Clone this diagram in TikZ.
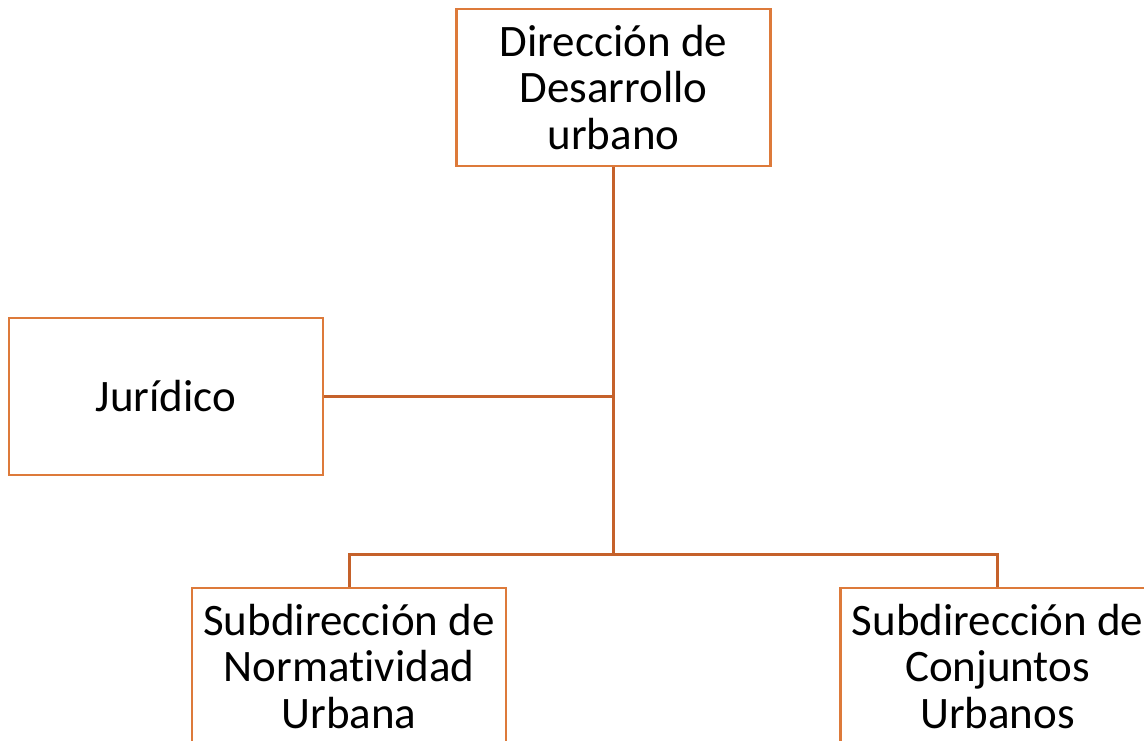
\documentclass[tikz,border=0pt]{standalone}
\usepackage{fontspec}
\setmainfont{Carlito}[Ligatures={NoCommon}]
\definecolor{boxc}{HTML}{DD7A3A}
\definecolor{linec}{HTML}{C5612A}
\begin{document}
\begin{tikzpicture}[x=1pt,y=-1pt,
  orgbox/.style={draw=boxc,line width=2.5pt,fill=white,minimum width=314pt,minimum height=157pt,
    inner sep=0pt,align=center,font=\fontsize{45}{46.5}\selectfont},
  conn/.style={draw=linec,line width=3pt}]
\useasboundingbox (0,0) rectangle (1144,740);
\clip (0,0) rectangle (1144,740);
\fill[white] (0,0) rectangle (1144,740);
\node[orgbox] (dir) at (613.5,87.5) {Dirección de\\Desarrollo\\urbano};
\node[orgbox] (jur) at (166,396.5) {Jurídico};
\node[orgbox] (sn) at (349,666.5) {Subdirección de\\Normatividad\\Urbana};
\node[orgbox] (sc) at (997.5,666.5) {Subdirección de\\Conjuntos\\Urbanos};
\coordinate (hub) at (dir.south |- 0,554);
\coordinate (mid) at (dir.south |- jur.east);
\draw[conn] (dir.south) -- (hub);
\draw[conn] (jur.east) -- (mid);
\draw[conn] (sn.north) -- (sn.north |- hub) -- (sc.north |- hub) -- (sc.north);
\end{tikzpicture}
\end{document}
